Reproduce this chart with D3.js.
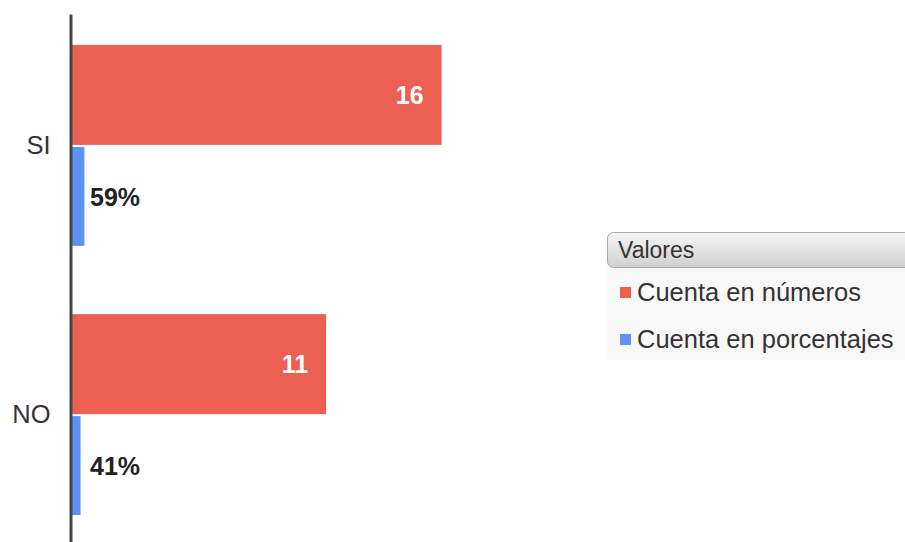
<!DOCTYPE html>
<html>
<head>
<meta charset="utf-8">
<script src="https://cdn.jsdelivr.net/npm/d3@7"></script>
<style>
  body { margin: 0; background: #fff; }
  svg { display: block; font-family: "Liberation Sans", Arial, sans-serif; }
</style>
</head>
<body>
<div id="chart"></div>
<script>
// data
var categories = ["SI", "NO"]
var seriesNames = ["Cuenta en números", "Cuenta en porcentajes"]
var countValues = [16, 11]
var pctValues = [59, 41]
var pctLabels = ["59%", "41%"]
var legendTitle = "Valores"

var colors = ["#ec5f53", "#5c93f5"]

var width = 905, height = 542

var svg = d3.select("#chart")
  .append("svg")
  .attr("width", width)
  .attr("height", height)

// scales
var y = d3.scaleBand()
  .domain(categories)
  .range([14, 547])
  .paddingInner(0.25)
  .paddingOuter(0.115)

var ySub = d3.scaleBand()
  .domain(seriesNames)
  .range([0, y.bandwidth()])
  .paddingInner(0.02)

var xNum = d3.scaleLinear().domain([0, 20]).range([72, 534])
var xPct = d3.scaleLinear().domain([0, 100]).range([72, 93])

var rows = categories.map(function (c, i) {
  return { cat: c, num: countValues[i], pct: pctValues[i], pctLabel: pctLabels[i] }
})

// red bars (counts)
svg.selectAll(".barNum")
  .data(rows)
  .enter()
  .append("rect")
  .attr("class", "barNum")
  .attr("x", xNum(0))
  .attr("y", function (d) { return y(d.cat) + ySub(seriesNames[0]); })
  .attr("width", function (d) { return xNum(d.num) - xNum(0); })
  .attr("height", ySub.bandwidth())
  .attr("fill", colors[0])

svg.selectAll(".lblNum")
  .data(rows)
  .enter()
  .append("text")
  .attr("class", "lblNum")
  .attr("x", function (d) { return xNum(d.num) - 18; })
  .attr("y", function (d) { return y(d.cat) + ySub(seriesNames[0]) + ySub.bandwidth() / 2; })
  .attr("dy", "0.36em")
  .attr("text-anchor", "end")
  .attr("fill", "#fff")
  .style("font-weight", "bold")
  .style("font-size", "25px")
  .text(function (d) { return d.num; })

// blue bars (percentages)
svg.selectAll(".barPct")
  .data(rows)
  .enter()
  .append("rect")
  .attr("class", "barPct")
  .attr("x", xPct(0))
  .attr("y", function (d) { return y(d.cat) + ySub(seriesNames[1]); })
  .attr("width", function (d) { return xPct(d.pct) - xPct(0); })
  .attr("height", ySub.bandwidth() - 1)
  .attr("fill", colors[1])

svg.selectAll(".lblPct")
  .data(rows)
  .enter()
  .append("text")
  .attr("class", "lblPct")
  .attr("x", xPct(0) + 18)
  .attr("y", function (d) { return y(d.cat) + ySub(seriesNames[1]) + ySub.bandwidth() / 2; })
  .attr("dy", "0.36em")
  .attr("fill", "#222")
  .style("font-weight", "bold")
  .style("font-size", "25px")
  .text(function (d) { return d.pctLabel; })

// axis
var axis = svg.append("g")
  .attr("transform", "translate(70.5,0)")
  .call(d3.axisLeft(y).tickSize(0).tickPadding(20))
axis.select(".domain").attr("stroke", "#444").attr("stroke-width", 3)
axis.selectAll("text")
  .attr("fill", "#333")
  .style("font-size", "25.5px")
  .style("font-family", "Liberation Sans, Arial, sans-serif")

// legend
var defs = svg.append("defs")
var grad = defs.append("linearGradient")
  .attr("id", "hdr").attr("x1", 0).attr("y1", 0).attr("x2", 0).attr("y2", 1)
grad.append("stop").attr("offset", "0%").attr("stop-color", "#f6f6f6")
grad.append("stop").attr("offset", "100%").attr("stop-color", "#cfcfcf")

var legend = svg.append("g").attr("transform", "translate(607,232)")
legend.append("rect")
  .attr("x", 0).attr("y", 0)
  .attr("width", 310).attr("height", 128)
  .attr("fill", "#f8f8f8")
legend.append("rect")
  .attr("x", 0.5).attr("y", 0.5)
  .attr("width", 310).attr("height", 35)
  .attr("rx", 6)
  .attr("fill", "url(#hdr)")
  .attr("stroke", "#a8a8a8")
legend.append("text")
  .attr("x", 11).attr("y", 26)
  .attr("fill", "#333")
  .style("font-size", "23px")
  .text(legendTitle)

var items = legend.selectAll(".item")
  .data(seriesNames)
  .enter()
  .append("g")
  .attr("class", "item")
  .attr("transform", function (d, i) { return "translate(0," + (69 + i * 47) + ")"; })
items.append("rect")
  .attr("x", 13).attr("y", -14)
  .attr("width", 11).attr("height", 11)
  .attr("fill", function (d, i) { return colors[i]; })
items.append("text")
  .attr("x", 30).attr("y", 0)
  .attr("fill", "#333")
  .style("font-size", "25.5px")
  .text(function (d) { return d; })
</script>
</body>
</html>
